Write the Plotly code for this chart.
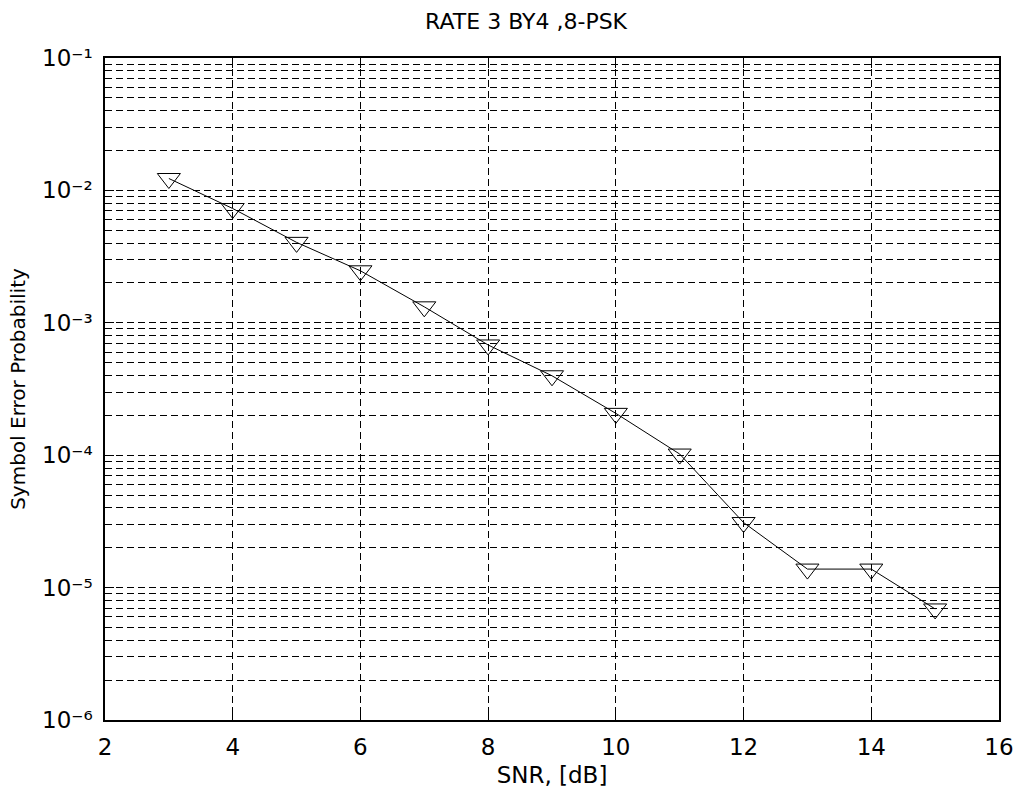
import plotly.graph_objects as go

# Data
snr_db = [3, 4, 5, 6, 7, 8, 9, 10, 11, 12, 13, 14, 15]
ser = [1.23e-2, 7.3e-3, 4.05e-3, 2.47e-3, 1.32e-3, 6.8e-4, 3.98e-4,
       2.07e-4, 1.02e-4, 3.1e-5, 1.38e-5, 1.38e-5, 6.9e-6]

x_tickvals = [2, 4, 6, 8, 10, 12, 14, 16]
y_exponents = [-6, -5, -4, -3, -2, -1]
y_tickvals = [10.0 ** e for e in y_exponents]
SUP = str.maketrans("-0123456789", "⁻⁰¹²³⁴⁵⁶⁷⁸⁹")
y_ticktext = ["10" + str(e).translate(SUP) for e in y_exponents]
y_minor_vals = [m * 10.0 ** e for e in y_exponents[:-1] for m in range(2, 10)]

title_text = "RATE 3 BY4 ,8-PSK"
x_title = "SNR, [dB]"
y_title = "Symbol Error Probability"

FONT = "DejaVu Sans"
DASH = "7px,4px"

fig = go.Figure()
fig.add_trace(go.Scatter(
    x=snr_db, y=ser, mode="lines+markers",
    line=dict(color="black", width=1),
    marker=dict(symbol="triangle-down-open", size=20, color="black",
                line=dict(color="black", width=1)),
    showlegend=False,
))

fig.update_layout(
    width=1018, height=791,
    paper_bgcolor="white", plot_bgcolor="white",
    margin=dict(l=105, r=19, t=58, b=71, autoexpand=False),
    title=dict(text=title_text, x=0.471, xref="paper", xanchor="center",
               y=1 - 21 / 791, yref="container", yanchor="middle",
               font=dict(family=FONT, size=22, color="black")),
    xaxis=dict(
        range=[2, 16], tickmode="array", tickvals=x_tickvals,
        ticks="inside", ticklen=10, tickwidth=1, tickcolor="black",
        showline=True, linecolor="black", linewidth=1.5, mirror="allticks",
        showgrid=True, gridcolor="black", gridwidth=1, griddash=DASH,
        zeroline=False,
        tickfont=dict(family=FONT, size=23, color="black"),
        ticklabelstandoff=6,
        title=dict(text=x_title, font=dict(family=FONT, size=23, color="black"),
                   standoff=8),
        automargin=False,
    ),
    yaxis=dict(
        type="log", range=[-6, -1], tickmode="array",
        tickvals=y_tickvals, ticktext=y_ticktext,
        ticks="inside", ticklen=9, tickwidth=1, tickcolor="black",
        showline=True, linecolor="black", linewidth=1.5, mirror="allticks",
        showgrid=True, gridcolor="black", gridwidth=1, griddash=DASH,
        zeroline=False,
        tickfont=dict(family=FONT, size=23, color="black"),
        ticklabelstandoff=6,
        minor=dict(tickmode="array", tickvals=y_minor_vals, ticks="inside",
                   ticklen=5, tickcolor="black", showgrid=True,
                   gridcolor="black", gridwidth=1, griddash=DASH),
        title=dict(text=y_title, font=dict(family=FONT, size=20, color="black"),
                   standoff=11),
        automargin=False,
    ),
)

fig.write_html("out.html")
